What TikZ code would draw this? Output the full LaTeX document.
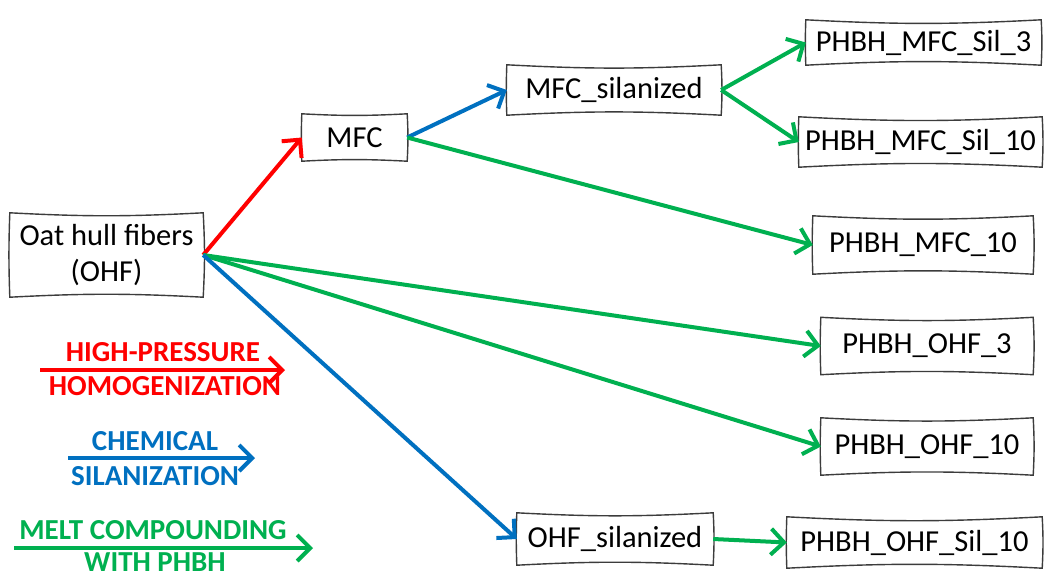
\documentclass[tikz,border=0pt]{standalone}
\usepackage{fontspec}
\setmainfont{Carlito}
\usetikzlibrary{arrows.meta}
\definecolor{cred}{RGB}{255,0,0}
\definecolor{cblue}{RGB}{0,112,192}
\definecolor{cgreen}{RGB}{0,176,80}
\definecolor{cbox}{RGB}{60,60,60}
\tikzset{
  boxnode/.style={draw=none, inner sep=0pt, align=center, font=\fontsize{30.5}{36}\selectfont},
  boxline/.style={draw=cbox, line width=1.4pt},
  conn/.style={line width=4pt, -{Straight Barb[length=13pt,width=26pt,line width=4pt]}},
  lgd/.style={font=\bfseries\fontsize{29}{33}\selectfont, inner sep=0pt},
}
\newcommand\skbox[1]{%
  \draw[boxline] (#1.north west) to[bend right=3] (#1.north east)
    to[bend left=3] (#1.south east) to[bend right=3] (#1.south west)
    to[bend left=2] cycle;}
\begin{document}
\begin{tikzpicture}[x=1pt,y=-1pt]
\useasboundingbox[fill=white] (0,0) rectangle (1044,579);
% nodes
\node[boxnode, minimum width=193, minimum height=84] (ohf) at (106.5,255) {Oat hull fibers\\(OHF)};
\node[boxnode, minimum width=105, minimum height=47] (mfc) at (354.5,137.5) {MFC};
\node[boxnode, minimum width=214, minimum height=50] (mfcs) at (614,90) {MFC\_silanized};
\node[boxnode, minimum width=235, minimum height=45] (ms3) at (923.5,42.5) {PHBH\_MFC\_Sil\_3};
\node[boxnode, minimum width=243, minimum height=50] (ms10) at (920.5,142) {PHBH\_MFC\_Sil\_10};
\node[boxnode, minimum width=220, minimum height=58] (m10) at (923,245) {PHBH\_MFC\_10};
\node[boxnode, minimum width=212, minimum height=57] (o3) at (927,346) {PHBH\_OHF\_3};
\node[boxnode, minimum width=212, minimum height=57] (o10) at (927,446.5) {PHBH\_OHF\_10};
\node[boxnode, minimum width=196, minimum height=52] (ohfs) at (615,539) {OHF\_silanized};
\node[boxnode, minimum width=255, minimum height=51] (os10) at (914.5,542.5) {PHBH\_OHF\_Sil\_10};
\foreach \n in {ohf,mfc,mfcs,ms3,ms10,m10,o3,o10,ohfs,os10} {\skbox{\n}}
% connectors
\draw[conn, cred] (ohf.east) -- (mfc.west);
\draw[conn, cblue] (mfc.east) -- (mfcs.west);
\draw[conn, cgreen] (mfc.east) -- (m10.west);
\draw[conn, cgreen] (mfcs.east) -- (ms3.west);
\draw[conn, cgreen] (mfcs.east) -- (ms10.west);
\draw[conn, cgreen] (ohf.east) -- (o3.west);
\draw[conn, cgreen] (ohf.east) -- (o10.west);
\draw[conn, cblue] (ohf.east) -- (ohfs.west);
\draw[conn, cgreen] (ohfs.east) -- (os10.west);
% legend
\coordinate (l1a) at (40,370); \coordinate (l1b) at (285,370);
\coordinate (l2a) at (68,458); \coordinate (l2b) at (255,458);
\coordinate (l3a) at (14,548); \coordinate (l3b) at (313,548);
\draw[conn, cred] (l1a) -- (l1b);
\draw[conn, cblue] (l2a) -- (l2b);
\draw[conn, cgreen] (l3a) -- (l3b);
\node[lgd, text=cred] (t1a) at (163,352) {HIGH-PRESSURE};
\node[lgd, text=cred] (t1b) at (165,386) {HOMOGENIZATION};
\node[lgd, text=cblue] (t2a) at (155,441) {CHEMICAL};
\node[lgd, text=cblue] (t2b) at (155,476) {SILANIZATION};
\node[lgd, text=cgreen] (t3a) at (153,530) {MELT COMPOUNDING};
\node[lgd, text=cgreen] (t3b) at (155,562) {WITH PHBH};
\end{tikzpicture}
\end{document}
